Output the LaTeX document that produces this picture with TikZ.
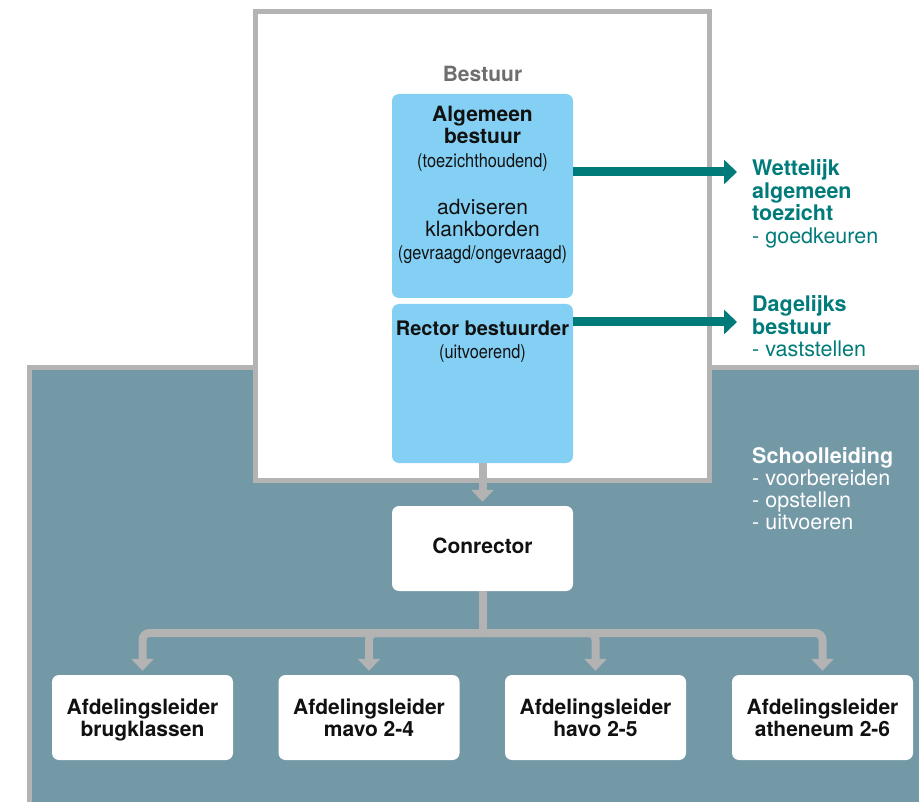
\documentclass[tikz,border=0pt]{standalone}
\usepackage{fontspec}
\setmainfont{TeX Gyre Heros}
\newfontfamily\condfont[FakeStretch=0.86]{TeX Gyre Heros}
\usetikzlibrary{arrows.meta}
\definecolor{bgteal}{HTML}{7398A6}
\definecolor{framegray}{HTML}{B3B3B3}
\definecolor{boxblue}{HTML}{84D0F4}
\definecolor{tealc}{HTML}{007B7A}
\definecolor{titlegray}{HTML}{6E6E6E}
\definecolor{inkc}{HTML}{111111}
\newcommand\dsbig{\fontsize{21}{22}\selectfont}
\newcommand\dsmid{\fontsize{20}{22}\selectfont}
\newcommand\dsside{\fontsize{21.5}{22}\selectfont}
\newcommand\dscond{\condfont\fontsize{19}{22}\selectfont}
\begin{document}
\begin{tikzpicture}[x=1pt,y=-1pt,
  bluebox/.style={draw=none, fill=boxblue, rounded corners=7pt, minimum width=181pt, inner sep=0pt},
  whitebox/.style={draw=none, fill=white, rounded corners=7pt, minimum width=181pt, minimum height=85pt, inner sep=0pt},
  txt/.style={anchor=base, inner sep=0pt, text=inkc},
  sidetxt/.style={anchor=base west, inner sep=0pt, font=\dsside},
  gline/.style={draw=framegray, line width=8pt},
  garrow/.style={draw=framegray, line width=8pt, -{Triangle[length=12pt,width=22pt]}},
  tarrow/.style={draw=tealc, line width=9pt, -{Triangle[length=13pt,width=24pt]}}
]
\useasboundingbox (0,0) rectangle (919,802);
% background region
\fill[bgteal] (29,368) rectangle (930,810);
\draw[framegray, line width=5pt] (29,810) -- (29,368) -- (930,368);
% Bestuur frame
\draw[framegray, line width=5pt, fill=white] (255,11.5) rectangle (709,480);

% boxes
\node[bluebox, minimum height=204pt] (ab) at (482.5,196) {};
\node[bluebox, minimum height=159pt] (rb) at (482.5,383.5) {};
\node[whitebox] (con) at (482.5,548.5) {};
\node[whitebox] (b1) at (142.5,717.5) {};
\node[whitebox] (b2) at (369,717.5) {};
\node[whitebox] (b3) at (595.5,717.5) {};
\node[whitebox] (b4) at (822.5,717.5) {};

% gray connectors
\draw[garrow, shorten >=4pt] (rb.south) -- (con.north);
\coordinate (j) at (482.5,633);
\coordinate (jb) at (482.5,637);
\draw[gline] (con.south) -- (jb);
\draw[garrow, rounded corners=7pt, shorten >=4pt] (j) -| (b1.north);
\draw[garrow, rounded corners=7pt, shorten >=4pt] (j) -| (b2.north);
\draw[garrow, rounded corners=7pt, shorten >=4pt] (j) -| (b3.north);
\draw[garrow, rounded corners=7pt, shorten >=4pt] (j) -| (b4.north);

% teal arrows
\coordinate (w) at (737,172);
\coordinate (d) at (737,322);
\draw[tarrow] (ab.east |- w) -- (w);
\draw[tarrow] (rb.east |- d) -- (d);

% texts in the Bestuur frame
\node[txt, text=titlegray, font=\dsbig\bfseries] (tb) at (482.5,82) {Bestuur};
\node[txt, font=\dsbig\bfseries] (a1) at (482.5,122) {\begin{tabular}[t]{@{}c@{}}Algemeen\\bestuur\end{tabular}};
\node[txt, font=\dscond] (a2) at (482.5,168) {(toezichthoudend)};
\node[txt, font=\dsbig] (a3) at (482.5,215) {\begin{tabular}[t]{@{}c@{}}adviseren\\klankborden\end{tabular}};
\node[txt, font=\dscond] (a4) at (482.5,260) {(gevraagd/ongevraagd)};
\node[txt, font=\dsmid\bfseries] (r1) at (482.5,336) {Rector bestuurder};
\node[txt, font=\dscond] (r2) at (482.5,359) {(uitvoerend)};

% texts in white boxes
\node[txt, font=\dsbig\bfseries] (c1) at (482.5,553) {Conrector};
\node[txt, font=\dsbig\bfseries] (t1) at (142.5,714) {\begin{tabular}[t]{@{}c@{}}Afdelingsleider\\brugklassen\end{tabular}};
\node[txt, font=\dsbig\bfseries] (t2) at (369,714) {\begin{tabular}[t]{@{}c@{}}Afdelingsleider\\mavo 2-4\end{tabular}};
\node[txt, font=\dsbig\bfseries] (t3) at (595.5,714) {\begin{tabular}[t]{@{}c@{}}Afdelingsleider\\havo 2-5\end{tabular}};
\node[txt, font=\dsbig\bfseries] (t4) at (822.5,714) {\begin{tabular}[t]{@{}c@{}}Afdelingsleider\\atheneum 2-6\end{tabular}};

% side texts
\node[sidetxt, text=tealc] (wt) at (752,176) {\begin{tabular}[t]{@{}l@{}}\bfseries Wettelijk\\\bfseries algemeen\\\bfseries toezicht\\- goedkeuren\end{tabular}};
\node[sidetxt, text=tealc] (dt) at (752,312) {\begin{tabular}[t]{@{}l@{}}\bfseries Dagelijks\\\bfseries bestuur\\- vaststellen\end{tabular}};
\node[sidetxt, text=white] (st) at (752,463) {\begin{tabular}[t]{@{}l@{}}\bfseries Schoolleiding\\- voorbereiden\\- opstellen\\- uitvoeren\end{tabular}};
\end{tikzpicture}
\end{document}
